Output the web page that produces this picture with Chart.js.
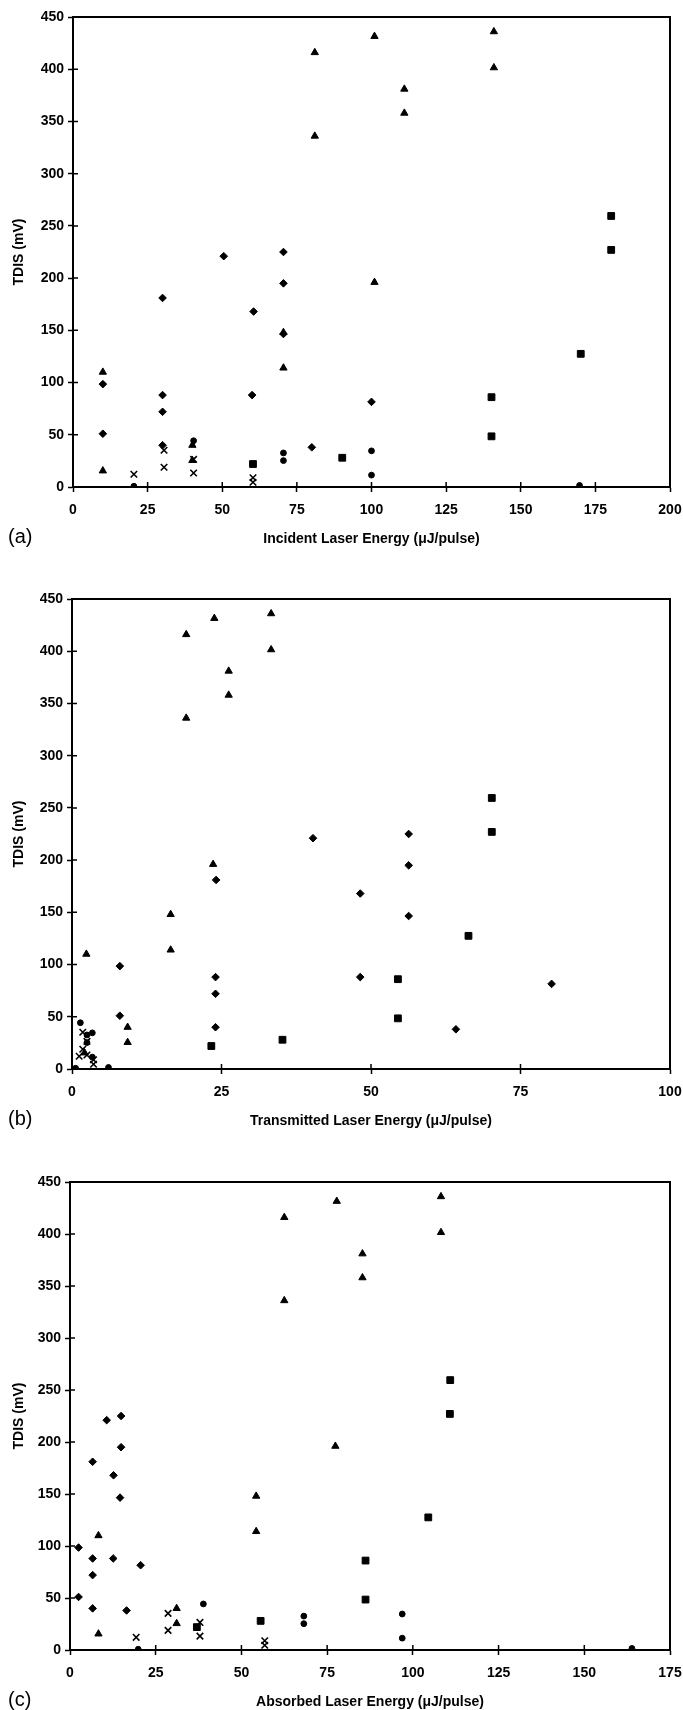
<!DOCTYPE html>
<html>
<head>
<meta charset="utf-8">
<script src="https://cdn.jsdelivr.net/npm/chart.js@4"></script>
<style>
  body { margin: 0; background: #fff; }
  #page { position: relative; width: 683px; height: 1710px; overflow: hidden; }
  .panel { position: absolute; left: 0; width: 683px; height: 548px; }
  .panel canvas { position: absolute; left: 0; top: 0; }
  .tag { position: absolute; left: 8px; top: 524px; font: 20px "Liberation Sans", Arial, sans-serif; line-height: 24px; color: #000; }
</style>
</head>
<body>
<div id="page">
  <div class="panel" style="top:0px"><canvas id="chartA" width="683" height="548"></canvas><div class="tag">(a)</div></div>
  <div class="panel" style="top:582px"><canvas id="chartB" width="683" height="548"></canvas><div class="tag">(b)</div></div>
  <div class="panel" style="top:1163px"><canvas id="chartC" width="683" height="548"></canvas><div class="tag">(c)</div></div>
</div>
<script>
// TDIS signal vs laser energy — one marker shape per sample group
// each group: TDIS (mV) plus incident / transmitted / absorbed energy (µJ/pulse)

// diamonds
const diaTdis        = [98.5, 51, 181, 88, 72, 40, 221, 168, 88, 225, 195, 146.5, 38, 81.5];
const diaIncident    = [10, 10, 30, 30, 30, 30, 50.5, 60.5, 60, 70.5, 70.5, 70.5, 80, 100];
const diaTransmitted = [8, 8, 24.1, 24, 24, 24, 40.3, 48.2, 48.2, 56.3, 56.3, 56.3, 64.2, 80.2];
const diaAbsorbed    = [2.5, 2.5, 6.6, 6.6, 6.6, 6.6, 10.7, 12.7, 12.6, 14.9, 14.9, 14.6, 16.5, 20.6];

// triangles
const triTdis        = [110, 15.5, 40, 25.5, 148, 114, 416, 336, 431.5, 196, 381, 358, 436, 401.5];
const triIncident    = [10, 10, 40, 40, 70.5, 70.5, 81, 81, 101, 101, 111, 111, 141, 141];
const triTransmitted = [2.4, 2.1, 9.3, 9.3, 16.5, 16.5, 19.1, 19.1, 23.8, 23.6, 26.2, 26.2, 33.3, 33.3];
const triAbsorbed    = [8.3, 8.3, 31.1, 31.1, 54.3, 54.3, 62.5, 62.5, 77.8, 77.4, 85.3, 85.3, 108.2, 108.2];

// squares
const sqTdis        = [22, 28, 86, 48.5, 127.5, 259.5, 227];
const sqIncident    = [60.3, 90.2, 140.2, 140.2, 170.1, 180.3, 180.3];
const sqTransmitted = [23.3, 35.2, 54.5, 54.5, 66.3, 70.2, 70.2];
const sqAbsorbed    = [37, 55.6, 86.2, 86.2, 104.5, 110.9, 110.8];

// circles
const cirTdis        = [0.7, 44.3, 32.6, 25.3, 34.6, 11.4, 1.5];
const cirIncident    = [20.4, 40.4, 70.5, 70.5, 100, 100, 169.7];
const cirTransmitted = [0.6, 1.4, 2.5, 2.5, 3.4, 3.4, 6.1];
const cirAbsorbed    = [19.9, 38.9, 68.2, 68.2, 96.9, 96.9, 163.9];

// crosses
const crsTdis        = [12.2, 35.2, 18.9, 26.5, 13.4, 8.9, 4.6];
const crsIncident    = [20.4, 30.5, 30.5, 40.4, 40.4, 60.3, 60.3];
const crsTransmitted = [1.2, 1.8, 1.8, 2.5, 2.5, 3.6, 3.6];
const crsAbsorbed    = [19.3, 28.6, 28.6, 37.9, 37.9, 56.8, 56.8];

const yTicks = [0, 50, 100, 150, 200, 250, 300, 350, 400, 450];

Chart.defaults.font.family = '"Liberation Sans", Arial, sans-serif';
Chart.defaults.color = '#000';

const pts = (xs, ys) => xs.map((x, i) => ({ x: x, y: ys[i] }));

function series(xs, ys, style, r) {
    return {
        data: pts(xs, ys),
        pointStyle: style,
        pointRadius: r,
        pointHoverRadius: r,
        pointBackgroundColor: '#000',
        pointBorderColor: '#000',
        pointBorderWidth: style === 'crossRot' ? 1.6 : 1,
        showLine: false
    };
}

// frame round the plot + the inner half of each tick mark
const framePlugin = {
    id: 'frame',
    afterDraw(chart) {
        const { ctx, chartArea: a, scales: { x, y } } = chart;
        ctx.save();
        ctx.strokeStyle = '#000';
        ctx.lineWidth = 2;
        ctx.strokeRect(a.left, a.top, a.right - a.left, a.bottom - a.top);
        ctx.lineWidth = 1.5;
        ctx.beginPath();
        x.ticks.forEach((t, i) => { const px = x.getPixelForTick(i); ctx.moveTo(px, a.bottom); ctx.lineTo(px, a.bottom - 5); });
        y.ticks.forEach((t, i) => { const py = y.getPixelForTick(i); ctx.moveTo(a.left, py); ctx.lineTo(a.left + 5, py); });
        ctx.stroke();
        ctx.restore();
    }
};

function makeChart(id, xMax, xTitle, leftEdge, topPad, sets) {
    new Chart(document.getElementById(id), {
        type: 'scatter',
        data: {
            datasets: [
                series(sets[0], diaTdis, 'rectRot', 3.8),
                series(sets[1], triTdis, 'triangle', 4.2),
                series(sets[2], sqTdis, 'rect', 4.8),
                series(sets[3], cirTdis, 'circle', 2.9),
                series(sets[4], crsTdis, 'crossRot', 4.6)
            ]
        },
        options: {
            responsive: false,
            animation: false,
            events: [],
            layout: { padding: { top: topPad, right: 13, left: 0, bottom: 0 } },
            plugins: { legend: { display: false }, tooltip: { enabled: false } },
            scales: {
                x: {
                    type: 'linear', min: 0, max: xMax,
                    afterFit: s => { s.height = 61; s.paddingLeft = 0; s.paddingRight = 0; },
                    ticks: { stepSize: 25, padding: 10, font: { size: 14, weight: 'bold' } },
                    grid: { drawOnChartArea: false, drawTicks: true, tickLength: 5, tickColor: '#000', tickWidth: 1.5 },
                    border: { display: true, color: '#000', width: 2 },
                    title: { display: true, text: xTitle, padding: { top: 0, bottom: 0 }, font: { size: 14, weight: 'bold' } }
                },
                y: {
                    type: 'linear', min: 0, max: 450,
                    afterFit: s => { s.width = leftEdge; },
                    afterBuildTicks: s => { s.ticks = yTicks.map(v => ({ value: v })); },
                    ticks: { padding: 4, font: { size: 14, weight: 'bold' } },
                    grid: { drawOnChartArea: false, drawTicks: true, tickLength: 5, tickColor: '#000', tickWidth: 1.5 },
                    border: { display: true, color: '#000', width: 2 },
                    title: { display: true, text: 'TDIS (mV)', padding: { top: 11, bottom: 0 }, font: { size: 14, weight: 'bold' } }
                }
            }
        },
        plugins: [framePlugin]
    });
}

makeChart('chartA', 200, 'Incident Laser Energy (μJ/pulse)', 73, 17,
    [diaIncident, triIncident, sqIncident, cirIncident, crsIncident]);
makeChart('chartB', 100, 'Transmitted Laser Energy (μJ/pulse)', 72, 17,
    [diaTransmitted, triTransmitted, sqTransmitted, cirTransmitted, crsTransmitted]);
makeChart('chartC', 175, 'Absorbed Laser Energy (μJ/pulse)', 70, 19,
    [diaAbsorbed, triAbsorbed, sqAbsorbed, cirAbsorbed, crsAbsorbed]);
</script>
</body>
</html>
